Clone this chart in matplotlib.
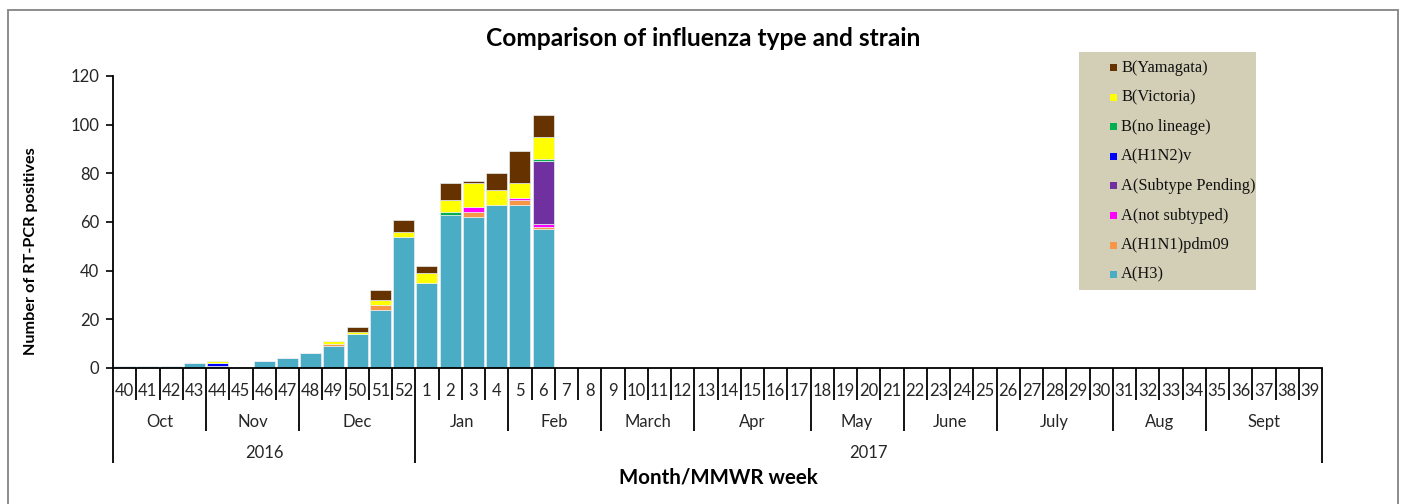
import matplotlib
matplotlib.use("Agg")
import matplotlib.pyplot as plt
from matplotlib.patches import Rectangle

# ---------------- data ----------------
weeks = [40, 41, 42, 43, 44, 45, 46, 47, 48, 49, 50, 51, 52,
         1, 2, 3, 4, 5, 6, 7, 8, 9, 10, 11, 12, 13, 14, 15, 16, 17, 18, 19, 20,
         21, 22, 23, 24, 25, 26, 27, 28, 29, 30, 31, 32, 33, 34, 35, 36, 37, 38, 39]

months = ["Oct", "Nov", "Dec", "Jan", "Feb", "March", "Apr", "May", "June", "July", "Aug", "Sept"]
month_weeks = [4, 4, 5, 4, 4, 4, 5, 4, 4, 5, 4, 5]
years = ["2016", "2017"]
year_weeks = [13, 39]

a_h3 =        [1, 1, 1, 2, 1, 0, 3, 4, 6, 9, 14, 24, 54, 35, 63, 62, 67, 67, 57,
               0, 0, 0, 0, 0, 0, 0, 0, 0, 0, 0, 0, 0, 0, 0, 0, 0, 0, 0, 0, 0, 0, 0, 0, 0, 0, 0, 0, 0, 0, 0, 0, 0]
a_h1n1 =      [0, 0, 0, 0, 0, 0, 0, 0, 0, 1, 0, 2, 0, 0, 0, 2, 0, 2, 1,
               0, 0, 0, 0, 0, 0, 0, 0, 0, 0, 0, 0, 0, 0, 0, 0, 0, 0, 0, 0, 0, 0, 0, 0, 0, 0, 0, 0, 0, 0, 0, 0, 0]
a_notsub =    [0, 0, 0, 0, 0, 0, 0, 0, 0, 0, 0, 0, 0, 0, 0, 2, 0, 1, 1,
               0, 0, 0, 0, 0, 0, 0, 0, 0, 0, 0, 0, 0, 0, 0, 0, 0, 0, 0, 0, 0, 0, 0, 0, 0, 0, 0, 0, 0, 0, 0, 0, 0]
a_pending =   [0, 0, 0, 0, 0, 0, 0, 0, 0, 0, 0, 0, 0, 0, 0, 0, 0, 0, 26,
               0, 0, 0, 0, 0, 0, 0, 0, 0, 0, 0, 0, 0, 0, 0, 0, 0, 0, 0, 0, 0, 0, 0, 0, 0, 0, 0, 0, 0, 0, 0, 0, 0]
a_h1n2v =     [0, 0, 0, 0, 1, 0, 0, 0, 0, 0, 0, 0, 0, 0, 0, 0, 0, 0, 0,
               0, 0, 0, 0, 0, 0, 0, 0, 0, 0, 0, 0, 0, 0, 0, 0, 0, 0, 0, 0, 0, 0, 0, 0, 0, 0, 0, 0, 0, 0, 0, 0, 0]
b_nolineage = [0, 0, 0, 0, 0, 0, 0, 0, 0, 0, 0, 0, 0, 0, 1, 0, 0, 0, 1,
               0, 0, 0, 0, 0, 0, 0, 0, 0, 0, 0, 0, 0, 0, 0, 0, 0, 0, 0, 0, 0, 0, 0, 0, 0, 0, 0, 0, 0, 0, 0, 0, 0]
b_victoria =  [0, 0, 0, 0, 1, 0, 0, 0, 0, 1, 1, 2, 2, 4, 5, 10, 6, 6, 9,
               0, 0, 0, 0, 0, 0, 0, 0, 0, 0, 0, 0, 0, 0, 0, 0, 0, 0, 0, 0, 0, 0, 0, 0, 0, 0, 0, 0, 0, 0, 0, 0, 0]
b_yamagata =  [0, 0, 0, 0, 0, 0, 0, 0, 0, 0, 2, 4, 5, 3, 7, 1, 7, 13, 9,
               0, 0, 0, 0, 0, 0, 0, 0, 0, 0, 0, 0, 0, 0, 0, 0, 0, 0, 0, 0, 0, 0, 0, 0, 0, 0, 0, 0, 0, 0, 0, 0, 0]

series_names = ["A(H3)", "A(H1N1)pdm09", "A(not subtyped)", "A(Subtype Pending)",
                "A(H1N2)v", "B(no lineage)", "B(Victoria)", "B(Yamagata)"]
series_values = [a_h3, a_h1n1, a_notsub, a_pending, a_h1n2v, b_nolineage, b_victoria, b_yamagata]
series_colors = ["#4BACC6", "#F79646", "#FF00FF", "#7030A0",
                 "#0000FF", "#00B050", "#FFFF00", "#663300"]

# ---------------- figure ----------------
W, H = 1416, 504
DPI = 100
fig = plt.figure(figsize=(W / DPI, H / DPI), dpi=DPI)
fig.patch.set_facecolor("white")

def fx(px):
    return px / W

def fy(py):
    return 1 - py / H

# outer border
fig.add_artist(Rectangle((fx(8), fy(520)), fx(1398) - fx(8), fy(10) - fy(520),
                         transform=fig.transFigure, fill=False, edgecolor="#8c8c8c",
                         linewidth=1.4, clip_on=False))

ax_l, ax_r, ax_t, ax_b = 113, 1322, 76, 368
ax = fig.add_axes([fx(ax_l), fy(ax_b), fx(ax_r) - fx(ax_l), fy(ax_t) - fy(ax_b)])

n = len(weeks)
x = list(range(n))
bottom = [0] * n
for vals, col, name in zip(series_values, series_colors, series_names):
    ax.bar(x, vals, width=0.9, bottom=bottom, color=col, edgecolor="#e8eef0",
           linewidth=0.5, label=name, zorder=2)
    bottom = [b + v for b, v in zip(bottom, vals)]

ax.set_xlim(-0.5, n - 0.5)
ax.set_ylim(0, 120)
ax.set_yticks(range(0, 121, 20))
ax.tick_params(axis="y", direction="out", length=5, width=1.2, colors="black",
               labelcolor="#262626", labelsize=12, pad=5)
for lab in ax.get_yticklabels():
    lab.set_fontfamily("Lato")
ax.set_xticks([])
for s in ["top", "right"]:
    ax.spines[s].set_visible(False)
ax.spines["left"].set_linewidth(1.3)
ax.spines["bottom"].set_linewidth(1.3)

# ---------------- multi-level category axis ----------------
ppx = ax_b - ax_t
def ay(py):
    return -(py - ax_b) / ppx

trans = ax.get_xaxis_transform()
week_end, month_end, year_end = ay(400), ay(431), ay(463)

month_bounds = []
acc = 0
for m in month_weeks:
    acc += m
    month_bounds.append(acc)
year_bounds = []
acc = 0
for yv in year_weeks:
    acc += yv
    year_bounds.append(acc)

for i in range(n + 1):
    if i == 0 or i in year_bounds:
        y_end = year_end
    elif i in month_bounds:
        y_end = month_end
    else:
        y_end = week_end
    ax.plot([i - 0.5, i - 0.5], [0, y_end], transform=trans, color="black",
            linewidth=1.3, clip_on=False, solid_capstyle="butt")

for i, wk in enumerate(weeks):
    ax.text(i, ay(391), str(wk), transform=trans, ha="center", va="center",
            fontsize=12, family="Lato", color="#262626")

start = 0
for mname, m in zip(months, month_weeks):
    ax.text(start + m / 2 - 0.5, ay(422), mname, transform=trans, ha="center",
            va="center", fontsize=12, family="Lato", color="#262626")
    start += m

start = 0
for yname, yv in zip(years, year_weeks):
    ax.text(start + yv / 2 - 0.5, ay(453), yname, transform=trans, ha="center",
            va="center", fontsize=12, family="Lato", color="#262626")
    start += yv

# ---------------- titles ----------------
renderer = fig.canvas.get_renderer()

def fit_width(t, target_px, horizontal=True):
    bb = t.get_window_extent(renderer=renderer)
    cur = bb.width if horizontal else bb.height
    t.set_fontsize(t.get_fontsize() * target_px / cur)

title = fig.text(fx(703), fy(38), "Comparison of influenza type and strain", ha="center",
                 va="center", fontsize=14, fontweight="bold", family="Lato", color="black")
fit_width(title, 436)

xlab = fig.text(fx(718), fy(478), "Month/MMWR week", ha="center", va="center",
                fontsize=13, fontweight="bold", family="Lato", color="black")
fit_width(xlab, 199)

ylab = fig.text(fx(31), fy(251), "Number of RT-PCR positives", ha="center", va="center",
                rotation=90, fontsize=11, fontweight="bold", family="Lato", color="black")
fit_width(ylab, 208, horizontal=False)

# ---------------- legend ----------------
lg_l, lg_t, lg_r, lg_b = 1079, 52, 1256, 290
fig.add_artist(Rectangle((fx(lg_l), fy(lg_b)), fx(lg_r) - fx(lg_l), fy(lg_t) - fy(lg_b),
                         transform=fig.transFigure, facecolor="#D3CEB6", edgecolor="none"))
for k, (name, col) in enumerate(zip(series_names[::-1], series_colors[::-1])):
    yc = 67.5 + k * 29.6
    fig.add_artist(Rectangle((fx(1110), fy(yc + 3.5)), fx(7), 7 / H,
                             transform=fig.transFigure, facecolor=col, edgecolor="none"))
    t = fig.text(fx(1121), fy(yc), name, ha="left", va="center", fontsize=11.5,
                 family="Liberation Serif", color="#111111")
    if k == 0:
        bb = t.get_window_extent(renderer=renderer)
        leg_scale = 86 / bb.width
    t.set_fontsize(11.5 * leg_scale)

fig.savefig("out.png", dpi=DPI, facecolor="white")
